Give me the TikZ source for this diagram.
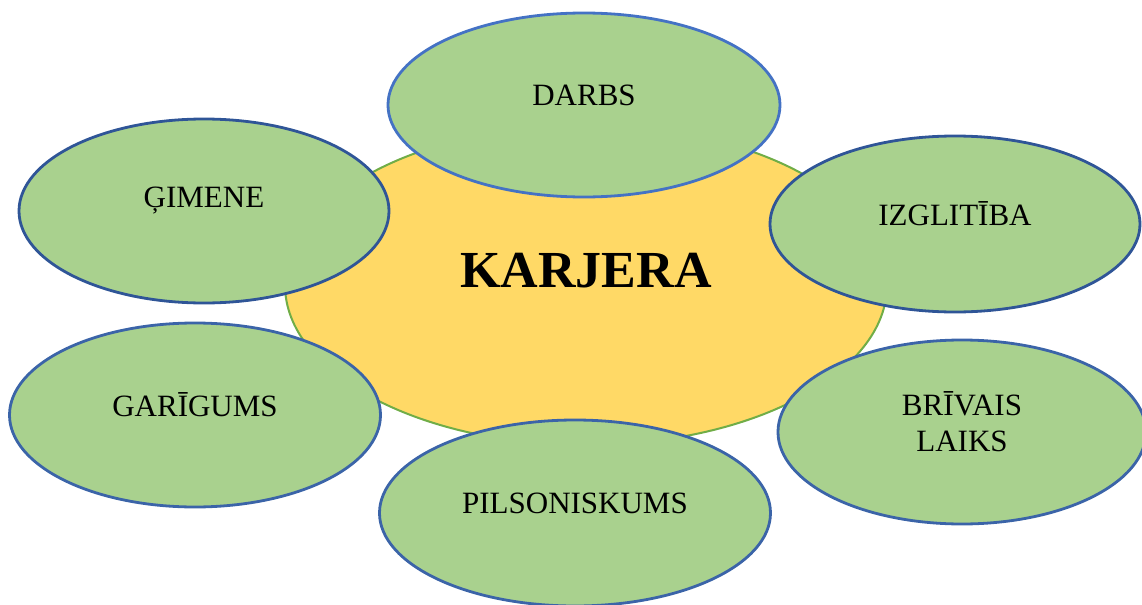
\documentclass[tikz,border=0pt]{standalone}
\usepackage{fontspec}
\setmainfont{Liberation Serif}
\usetikzlibrary{shapes.geometric}
\definecolor{hubyellow}{HTML}{FFD966}
\definecolor{hubline}{HTML}{70AD47}
\definecolor{leafgreen}{HTML}{A9D18E}
\definecolor{leafblue}{HTML}{3B64A8}
\definecolor{leafdark}{HTML}{2F5597}
\definecolor{leaflight}{HTML}{4472C4}
\tikzset{>=latex}

\begin{document}
\begin{tikzpicture}[x=0.5pt, y=-0.5pt,
		hub/.style={ellipse, draw=hubline, line width=1pt, fill=hubyellow, inner sep=0pt},
		leaf/.style={ellipse, draw=leafblue, line width=1.4pt, fill=leafgreen, inner sep=0pt},
		leaftext/.style={font=\fontsize{15.5}{18}\selectfont, align=center, yshift=5pt}]
		\useasboundingbox (0,0) rectangle (1142,605);
		
		\node[hub, minimum width=301pt, minimum height=160pt] (karjera) at (586,285) {};
		\node[font=\fontsize{26}{30}\selectfont\bfseries, yshift=7pt] (karjeratext) at (karjera) {KARJERA};
		
		\node[leaf, draw=leaflight, minimum width=196pt, minimum height=92pt] (darbs) at (584,105) {};
		\node[leaf, draw=leafdark, minimum width=185pt, minimum height=92pt] (gimene) at (204,211) {};
		\node[leaf, draw=leafdark, minimum width=185pt, minimum height=88pt] (izglitiba) at (955,224) {};
		\node[leaf, minimum width=185.5pt, minimum height=92pt] (garigums) at (195,415) {};
		\node[leaf, minimum width=184pt, minimum height=92pt] (brivais) at (962,432) {};
		\node[leaf, minimum width=195.5pt, minimum height=93pt] (pilsoniskums) at (575,513) {};
		
		\node[leaftext] (darbstext)        at (darbs)        {DARBS};
		\node[leaftext] (gimenetext)       at (gimene)       {ĢIMENE};
		\node[leaftext] (izglitibatext)    at (izglitiba)    {IZGLITĪBA};
		\node[leaftext] (garigumstext)     at (garigums)     {GARĪGUMS};
		\node[leaftext] (brivaistext)      at (brivais)      {BRĪVAIS\\LAIKS};
		\node[leaftext] (pilsoniskumstext) at (pilsoniskums) {PILSONISKUMS};
	\end{tikzpicture}
\end{document}
